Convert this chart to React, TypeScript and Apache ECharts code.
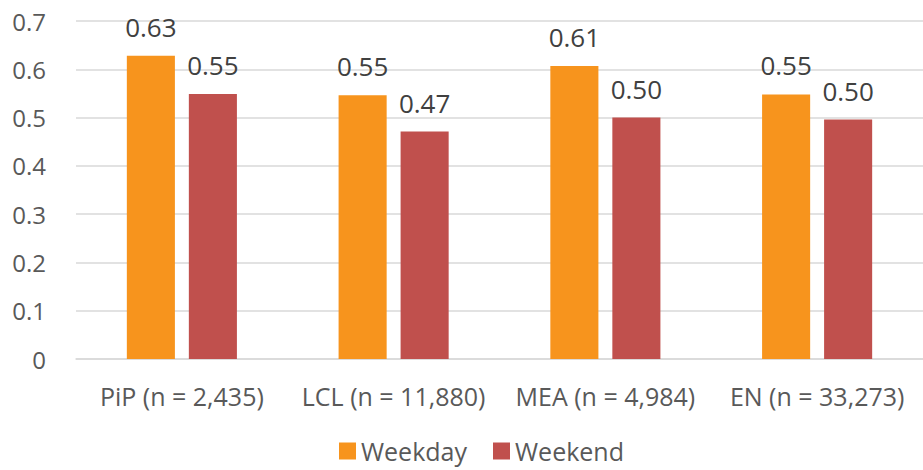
import React, { useEffect, useRef } from "react";
import * as echarts from "echarts";

const categories = ["PiP (n = 2,435)", "LCL (n = 11,880)", "MEA (n = 4,984)", "EN (n = 33,273)"];
const weekday = [0.628, 0.546, 0.607, 0.548];
const weekend = [0.549, 0.471, 0.5, 0.496];
const seriesNames = ["Weekday", "Weekend"];

const FONT = "'Open Sans', 'Noto Sans', sans-serif";

export default function App() {
  const ref = useRef<HTMLDivElement>(null);
  useEffect(() => {
    if (!ref.current) return;
    const chart = echarts.init(ref.current, undefined, { renderer: "svg" });
    const label = {
      show: true,
      position: "top" as const,
      distance: 16,
      color: "#404040",
      fontSize: 26,
      fontFamily: FONT,
      formatter: (p: any) => Number(p.value).toFixed(2),
    };
    chart.setOption({
      animation: false,
      grid: { left: 76, right: 0, top: 21, bottom: 111, containLabel: false },
      legend: {
        bottom: 0,
        left: 334,
        itemWidth: 17,
        itemHeight: 17,
        itemGap: 26,
        icon: "rect",
        textStyle: { fontSize: 25, color: "#595959", fontFamily: FONT, lineHeight: 28 },
        data: seriesNames,
      },
      xAxis: {
        type: "category",
        data: categories,
        axisLine: { show: true, lineStyle: { color: "#d9d9d9", width: 1.5 } },
        axisTick: { show: false },
        axisLabel: { color: "#595959", fontSize: 25, fontFamily: FONT, margin: 24, interval: 0 },
      },
      yAxis: {
        type: "value",
        min: 0,
        max: 0.7,
        interval: 0.1,
        axisLine: { show: false },
        axisTick: { show: false },
        splitLine: { lineStyle: { color: "#d9d9d9", width: 1.5 } },
        axisLabel: {
          color: "#595959",
          fontSize: 24,
          fontFamily: FONT,
          margin: 30,
          formatter: (v: number) => (v === 0 ? "0" : v.toFixed(1)),
        },
      },
      series: [
        {
          name: seriesNames[0],
          type: "bar",
          data: weekday,
          barWidth: "22.7%",
          barGap: "29%",
          itemStyle: { color: "#F7941D" },
          label,
        },
        {
          name: seriesNames[1],
          type: "bar",
          data: weekend,
          barWidth: "22.7%",
          itemStyle: { color: "#C0504D" },
          label,
        },
      ],
    });
    return () => chart.dispose();
  }, []);
  return <div ref={ref} style={{ width: 923, height: 470, position: "absolute", left: 0, top: 0 }} />;
}
